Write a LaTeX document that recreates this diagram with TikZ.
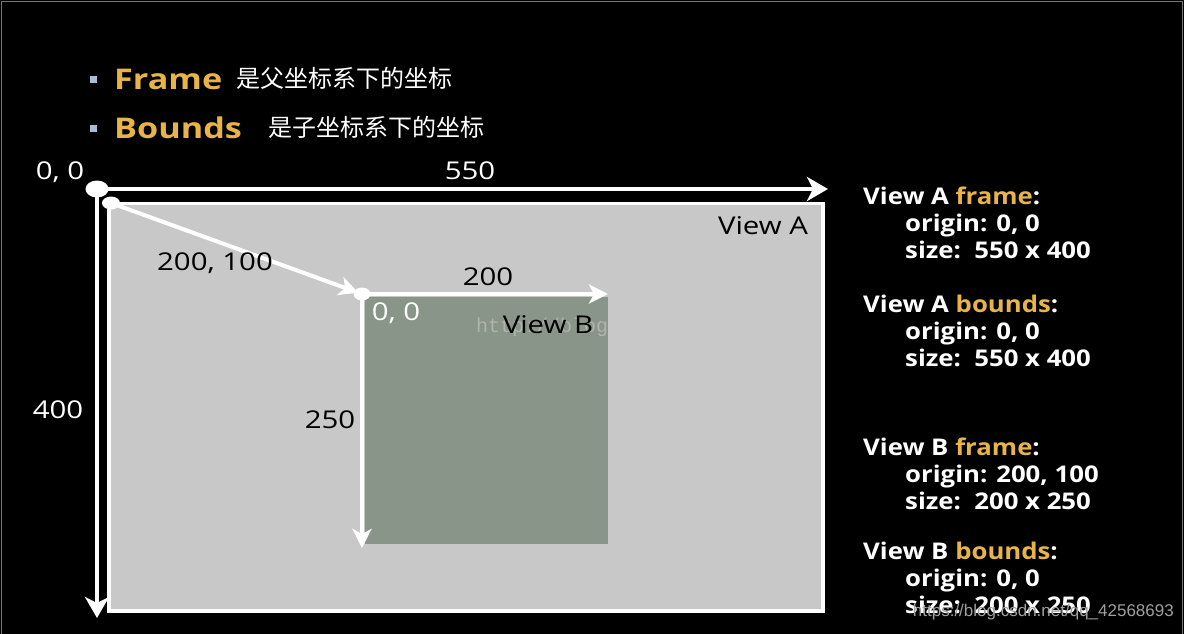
\documentclass[tikz,border=0pt]{standalone}
\usepackage{fontspec}
\setmainfont{Open Sans}[FakeStretch=1.2]
\newfontfamily\infofont{Open Sans}[FakeStretch=1.12]
\newfontfamily\cjk{Noto Sans CJK SC}
\newfontfamily\wmfont{Liberation Sans}
\newfontfamily\wmmono{Liberation Mono}
\usetikzlibrary{arrows.meta,shapes.geometric}
\definecolor{gold}{RGB}{232,180,72}
\definecolor{bulletc}{RGB}{170,186,210}
\definecolor{viewa}{RGB}{200,200,200}
\definecolor{viewb}{RGB}{138,149,137}
\definecolor{framec}{RGB}{120,120,120}
\begin{document}
\begin{tikzpicture}[x=1pt,y=-1pt,
  arr/.style={white, line width=4.5pt, -{Stealth[length=21pt,width=24pt,inset=6pt]}},
  sarr/.style={white, line width=4pt, -{Stealth[length=19pt,width=19pt,inset=5pt]}},
  dot/.style={ellipse, fill=white, inner sep=0},
  lbl/.style={font=\fontsize{24.5}{28}\selectfont, inner sep=0},
  info/.style={font=\infofont\bfseries\fontsize{23}{27}\selectfont, text=white, anchor=base west, inner sep=0},
  head/.style={font=\bfseries\fontsize{28.5}{32}\selectfont, text=gold, anchor=base west, inner sep=0},
  cn/.style={font=\cjk\fontsize{24}{28}\selectfont, text=white, anchor=base west, inner sep=0},
  bul/.style={fill=bulletc, minimum size=7pt, inner sep=0}
]
\path[use as bounding box] (0,0) rectangle (1184,634);
\fill[black] (0,0) rectangle (1184,634);
\draw[framec, line width=1.2pt] (1.5,634) -- (1.5,1.5) -- (1182.5,1.5) -- (1182.5,634);

% title bullets
\node[bul] (b1) at (93.5,80) {};
\node[bul] (b2) at (93.5,128) {};
\node[head] (frame) at (114,90) {Frame};
\node[cn] (frametxt) at (236,88) {是父坐标系下的坐标};
\node[head] (bounds) at (114,138) {Bounds};
\node[cn] (boundstxt) at (268,136) {是子坐标系下的坐标};

% view A
\draw[white, line width=3.5pt, fill=viewa] (109,203.5) rectangle (823,611);
% view B
\fill[viewb] (364.5,296.5) rectangle (608,544);
\node[font=\wmmono\fontsize{20}{24}\selectfont, text=white, opacity=0.3, anchor=west, inner sep=0] (wm1) at (476,327) {http://blog};

% coordinates
\coordinate (o) at (97,189);
\coordinate (xend) at (828,189);
\coordinate (yend) at (97,618);
\coordinate (a0) at (111,203);
\coordinate (b0) at (362,294);
\coordinate (bx) at (608,294);
\coordinate (by) at (362,548);

\draw[arr] (o) -- (xend);
\draw[arr] (o) -- (yend);
\draw[sarr, shorten >=4pt] (a0) -- (b0);
\draw[sarr] (b0) -- (bx);
\draw[sarr] (b0) -- (by);

\node[dot, minimum width=23pt, minimum height=17pt] (od) at (o) {};
\node[dot, minimum width=18pt, minimum height=13pt] (ad) at (a0) {};
\node[dot, minimum width=17pt, minimum height=13pt] (bd) at (b0) {};

% labels
\node[lbl, text=white] (l00) at (60,172) {0, 0};
\node[lbl, text=white] (l550) at (470,171) {550};
\node[lbl, text=white] (l400) at (58,410) {400};
\node[lbl, text=black] (l200100) at (215,263) {200, 100};
\node[lbl, text=black] (l200) at (488,277) {200};
\node[lbl, text=white] (lb00) at (396,313) {0, 0};
\node[lbl, text=black] (lvb) at (548,325) {View B};
\node[lbl, text=black] (l250) at (330,420) {250};
\node[lbl, text=black] (lva) at (763,226) {View A};

% info text
\node[info] (i1) at (863,204) {View A \textcolor{gold}{frame}:};
\node[info] (i2) at (905,231) {origin: 0, 0};
\node[info] (i3) at (905,258) {size:\ \ 550 x 400};
\node[info] (i4) at (863,312) {View A \textcolor{gold}{bounds}:};
\node[info] (i5) at (905,339) {origin: 0, 0};
\node[info] (i6) at (905,366) {size:\ \ 550 x 400};
\node[info] (i7) at (863,455) {View B \textcolor{gold}{frame}:};
\node[info] (i8) at (905,482) {origin: 200, 100};
\node[info] (i9) at (905,509) {size:\ \ 200 x 250};
\node[info] (i10) at (863,559) {View B \textcolor{gold}{bounds}:};
\node[info] (i11) at (905,586) {origin: 0, 0};
\node[info] (i12) at (905,613) {size:\ \ 200 x 250};

\node[font=\wmfont\fontsize{17}{20}\selectfont, text=gray!75, anchor=east, inner sep=0] (wm2) at (1174,612) {https://blog.csdn.net/qq\_42568693};
\end{tikzpicture}
\end{document}
